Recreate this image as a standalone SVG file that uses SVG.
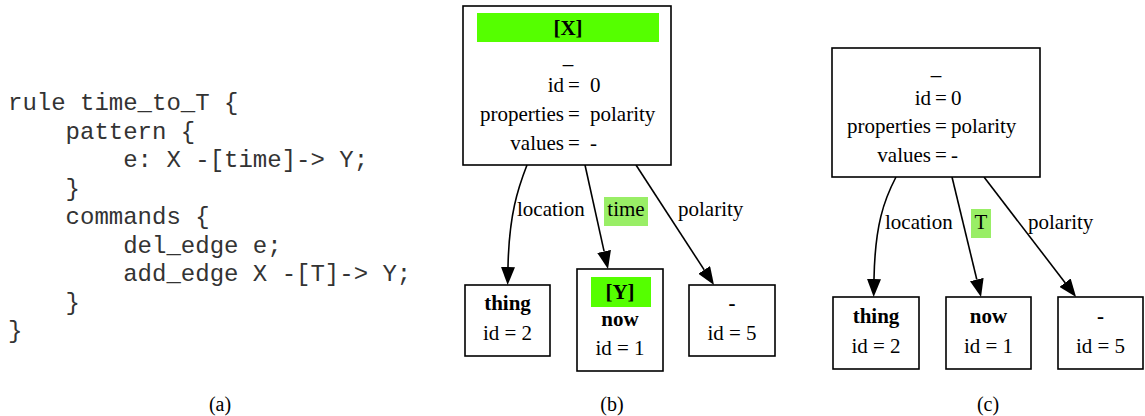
<svg xmlns="http://www.w3.org/2000/svg" width="1145" height="416" viewBox="0 0 1145 416">
<style>
.code{font-family:"Liberation Mono","Courier New",monospace;font-size:24px;fill:#333;white-space:pre}
.t{font-family:"Liberation Serif","Times New Roman",serif;font-size:21px;fill:#000}
.b{font-weight:bold}
.box{fill:#fff;stroke:#000;stroke-width:1.6}
.edge{fill:none;stroke:#000;stroke-width:1.6}
.bar{fill:#55ff00}
.lbg{fill:#99ee66}
.m{text-anchor:middle}
.e{text-anchor:end}
.cap{font-family:"Liberation Serif","Times New Roman",serif;font-size:20px;fill:#000;text-anchor:middle}
</style>
<defs>
<marker id="arr" markerUnits="userSpaceOnUse" markerWidth="20" markerHeight="14" refX="0" refY="7" orient="auto">
<path d="M0,0 L18,7 L0,14 z" fill="#000"/>
</marker>
</defs>
<rect width="1145" height="416" fill="#fff"/>

<g id="code">
<text class="code" x="8" y="110">rule time_to_T {</text>
<text class="code" x="8" y="138.5">    pattern {</text>
<text class="code" x="8" y="167">        e: X -[time]-&gt; Y;</text>
<text class="code" x="8" y="195.5">    }</text>
<text class="code" x="8" y="224">    commands {</text>
<text class="code" x="8" y="252.5">        del_edge e;</text>
<text class="code" x="8" y="281">        add_edge X -[T]-&gt; Y;</text>
<text class="code" x="8" y="309.5">    }</text>
<text class="code" x="8" y="338">}</text>
</g>

<g id="connectors">
<path class="edge" d="M527,165 C518,188 509,215 508,267" marker-end="url(#arr)"/>
<line class="edge" x1="585" y1="165" x2="604.1" y2="251.4" marker-end="url(#arr)"/>
<line class="edge" x1="636" y1="165" x2="704.2" y2="269.9" marker-end="url(#arr)"/>
<path class="edge" d="M896,177 C884,200 875,225 874,279" marker-end="url(#arr)"/>
<line class="edge" x1="952" y1="177" x2="976.8" y2="279.5" marker-end="url(#arr)"/>
<line class="edge" x1="984" y1="177" x2="1065.1" y2="282.7" marker-end="url(#arr)"/>
<text class="t" x="517" y="216">location</text>
<rect class="lbg" x="604" y="197" width="44" height="29"/>
<text class="t m" x="626" y="216">time</text>
<text class="t" x="678" y="216">polarity</text>
<text class="t" x="885" y="229">location</text>
<rect class="lbg" x="971" y="209" width="20" height="29"/>
<text class="t m" x="981" y="229">T</text>
<text class="t" x="1028" y="229">polarity</text>
</g>

<g id="b-root">
<rect class="box" x="463" y="6" width="208" height="159"/>
<rect class="bar" x="477" y="13" width="182" height="29"/>
<text class="t b m" x="568" y="35">[X]</text>
<text class="t m" x="568" y="63">_</text>
<text class="t e" x="564" y="92">id</text>
<text class="t" x="568" y="92">=</text>
<text class="t" x="590" y="92">0</text>
<text class="t e" x="564" y="121">properties</text>
<text class="t" x="568" y="121">=</text>
<text class="t" x="590" y="121">polarity</text>
<text class="t e" x="564" y="150">values</text>
<text class="t" x="568" y="150">=</text>
<text class="t" x="590" y="150">-</text>
</g>

<g id="b-thing">
<rect class="box" x="465" y="285" width="85" height="71"/>
<text class="t b m" x="507.5" y="310">thing</text>
<text class="t m" x="507.5" y="340">id = 2</text>
</g>

<g id="b-now">
<rect class="box" x="577" y="269" width="86" height="102"/>
<rect class="bar" x="591" y="277" width="60" height="30"/>
<text class="t b m" x="620" y="299">[Y]</text>
<text class="t b m" x="620" y="326">now</text>
<text class="t m" x="620" y="355">id = 1</text>
</g>

<g id="b-dash">
<rect class="box" x="689" y="285" width="86" height="71"/>
<text class="t b m" x="732" y="310">-</text>
<text class="t m" x="732" y="340">id = 5</text>
</g>

<g id="c-root">
<rect class="box" x="832" y="48" width="208" height="129"/>
<text class="t m" x="936" y="74">_</text>
<text class="t e" x="931" y="105">id</text>
<text class="t" x="935" y="105">=</text>
<text class="t" x="951" y="105">0</text>
<text class="t e" x="931" y="133">properties</text>
<text class="t" x="935" y="133">=</text>
<text class="t" x="951" y="133">polarity</text>
<text class="t e" x="931" y="162">values</text>
<text class="t" x="935" y="162">=</text>
<text class="t" x="951" y="162">-</text>
</g>

<g id="c-thing">
<rect class="box" x="833" y="297" width="86" height="72"/>
<text class="t b m" x="876" y="323">thing</text>
<text class="t m" x="876" y="353">id = 2</text>
</g>

<g id="c-now">
<rect class="box" x="946" y="297" width="85" height="72"/>
<text class="t b m" x="988.5" y="323">now</text>
<text class="t m" x="988.5" y="353">id = 1</text>
</g>

<g id="c-dash">
<rect class="box" x="1058" y="297" width="85" height="72"/>
<text class="t b m" x="1100.5" y="323">-</text>
<text class="t m" x="1100.5" y="353">id = 5</text>
</g>

<g id="captions">
<text class="cap" x="220" y="411">(a)</text>
<text class="cap" x="612" y="411">(b)</text>
<text class="cap" x="988" y="411">(c)</text>
</g>
</svg>
